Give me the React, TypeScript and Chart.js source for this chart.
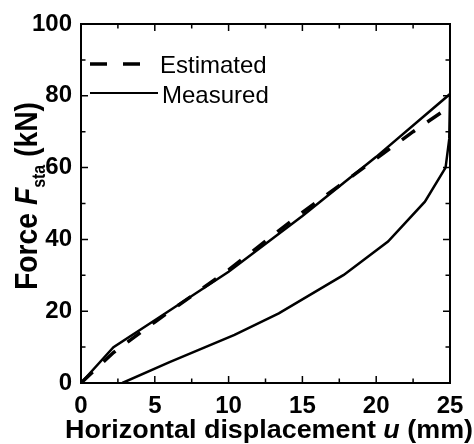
import React, { useEffect, useRef } from "react";
import { Chart, registerables } from "chart.js";

Chart.register(...registerables);

// ---- data ----
const estimatedX = [0, 2.2, 5, 10, 15, 17.5, 20, 22.5, 25];
const estimatedY = [0, 8.5, 17, 31.5, 47.5, 55, 62.5, 70, 77];

const measuredX = [0, 2.2, 5, 10, 15, 20, 25, 24.95, 24.7, 23.3, 20.8, 17.8, 13.4, 10.4, 6, 2.8];
const measuredY = [0, 10, 17.5, 31, 46.5, 63, 80.5, 68, 60, 50.5, 39.4, 30.1, 19.4, 13.4, 5.8, 0];

const xTicks = [0, 5, 10, 15, 20, 25];
const yTicks = [0, 20, 40, 60, 80, 100];
const xMinorTicks = [2.5, 7.5, 12.5, 17.5, 22.5];
const yMinorTicks = [10, 30, 50, 70, 90];

const FONT = "'Liberation Sans', Arial, Helvetica, sans-serif";

const toPoints = (xs: number[], ys: number[]) => xs.map((x, i) => ({ x, y: ys[i] }));

const framePlugin = {
  id: "frameAndTicks",
  afterDatasetsDraw(chart: any) {
    const { ctx, chartArea: a, scales } = chart;
    const xs = scales.x;
    const ys = scales.y;
    ctx.save();
    ctx.strokeStyle = "#000";
    ctx.lineWidth = 2;
    ctx.strokeRect(a.left, a.top, a.right - a.left, a.bottom - a.top);
    ctx.lineWidth = 1.5;
    const major = 7;
    const minor = 4.5;
    const drawX = (v: number, len: number) => {
      const px = xs.getPixelForValue(v);
      ctx.beginPath();
      ctx.moveTo(px, a.bottom);
      ctx.lineTo(px, a.bottom - len);
      ctx.moveTo(px, a.top);
      ctx.lineTo(px, a.top + len);
      ctx.stroke();
    };
    const drawY = (v: number, len: number) => {
      const py = ys.getPixelForValue(v);
      ctx.beginPath();
      ctx.moveTo(a.left, py);
      ctx.lineTo(a.left + len, py);
      ctx.moveTo(a.right, py);
      ctx.lineTo(a.right - len, py);
      ctx.stroke();
    };
    xTicks.forEach((v) => drawX(v, major));
    xMinorTicks.forEach((v) => drawX(v, minor));
    yTicks.forEach((v) => drawY(v, major));
    yMinorTicks.forEach((v) => drawY(v, minor));
    ctx.restore();
  },
};

const textPlugin = {
  id: "titlesAndLegend",
  afterDraw(chart: any) {
    const { ctx, chartArea: a } = chart;
    ctx.save();
    ctx.fillStyle = "#000";
    ctx.textBaseline = "alphabetic";
    ctx.textAlign = "left";

    // ---- X title ----
    const xParts = [
      { t: "Horizontal displacement ", f: `bold 25px ${FONT}` },
      { t: "u", f: `italic bold 25px ${FONT}` },
      { t: " (mm)", f: `bold 25px ${FONT}` },
    ];
    let total = 0;
    const widths = xParts.map((p) => {
      ctx.font = p.f;
      const w = ctx.measureText(p.t).width;
      total += w;
      return w;
    });
    const targetW = 408;
    const sx = targetW / total;
    ctx.save();
    ctx.translate(65, 438);
    ctx.scale(sx, 1);
    let cx = 0;
    xParts.forEach((p, i) => {
      ctx.font = p.f;
      ctx.fillText(p.t, cx, 0);
      cx += widths[i];
    });
    ctx.restore();

    // ---- Y title ----
    const yParts = [
      { t: "Force ", f: `bold 32px ${FONT}`, dy: 0 },
      { t: "F", f: `italic bold 32px ${FONT}`, dy: 0 },
      { t: "sta", f: `bold 18px ${FONT}`, dy: 8 },
      { t: " (kN)", f: `bold 32px ${FONT}`, dy: 0 },
    ];
    let ytotal = 0;
    const ywidths = yParts.map((p) => {
      ctx.font = p.f;
      const w = ctx.measureText(p.t).width;
      ytotal += w;
      return w;
    });
    const sy = 188 / ytotal;
    ctx.save();
    ctx.translate(37, 290);
    ctx.rotate(-Math.PI / 2);
    ctx.scale(sy, 1);
    let cy = 0;
    yParts.forEach((p, i) => {
      ctx.font = p.f;
      ctx.fillText(p.t, cy, p.dy);
      cy += ywidths[i];
    });
    ctx.restore();

    // ---- Legend ----
    ctx.strokeStyle = "#000";
    ctx.lineWidth = 3.5;
    ctx.setLineDash([17, 16]);
    ctx.beginPath();
    ctx.moveTo(90, 64);
    ctx.lineTo(141, 64);
    ctx.stroke();
    ctx.setLineDash([]);
    ctx.lineWidth = 2;
    ctx.beginPath();
    ctx.moveTo(90, 93);
    ctx.lineTo(158, 93);
    ctx.stroke();
    ctx.font = `24px ${FONT}`;
    ctx.fillText(chart.data.datasets[0].label, 160, 73);
    ctx.fillText(chart.data.datasets[1].label, 162, 103);

    ctx.restore();
  },
};

export default function App() {
  const ref = useRef<HTMLCanvasElement | null>(null);

  useEffect(() => {
    if (!ref.current) return;
    const chart = new Chart(ref.current, {
      type: "line",
      data: {
        datasets: [
          {
            label: "Estimated",
            data: toPoints(estimatedX, estimatedY),
            borderColor: "#000",
            borderWidth: 3.5,
            borderDash: [16, 15],
            pointRadius: 0,
            fill: false,
            tension: 0,
          },
          {
            label: "Measured",
            data: toPoints(measuredX, measuredY),
            borderColor: "#000",
            borderWidth: 2.5,
            pointRadius: 0,
            fill: false,
            tension: 0,
          },
        ],
      },
      options: {
        animation: false,
        responsive: false,
        devicePixelRatio: 1,
        layout: { padding: { top: 24, right: 24, left: 0, bottom: 0 } },
        plugins: {
          legend: { display: false },
          tooltip: { enabled: false },
          title: { display: false },
        },
        scales: {
          x: {
            type: "linear",
            min: 0,
            max: 25,
            afterBuildTicks: (s: any) => {
              s.ticks = xTicks.map((v) => ({ value: v }));
            },
            afterFit: (s: any) => {
              s.height = 61;
            },
            ticks: {
              color: "#000",
              font: { family: FONT, size: 24, weight: "bold" },
              padding: 9,
              maxRotation: 0,
            },
            grid: { display: false, drawTicks: false, tickLength: 0 },
            border: { display: false },
          },
          y: {
            type: "linear",
            min: 0,
            max: 100,
            afterBuildTicks: (s: any) => {
              s.ticks = yTicks.map((v) => ({ value: v }));
            },
            afterFit: (s: any) => {
              s.width = 81;
            },
            ticks: {
              color: "#000",
              font: { family: FONT, size: 24, weight: "bold" },
              padding: 9,
            },
            grid: { display: false, drawTicks: false, tickLength: 0 },
            border: { display: false },
          },
        },
      } as any,
      plugins: [framePlugin, textPlugin],
    });
    return () => chart.destroy();
  }, []);

  return (
    <div style={{ position: "fixed", left: 0, top: 0, width: 474, height: 444, background: "#fff" }}>
      <canvas ref={ref} width={474} height={444} style={{ display: "block" }} />
    </div>
  );
}
